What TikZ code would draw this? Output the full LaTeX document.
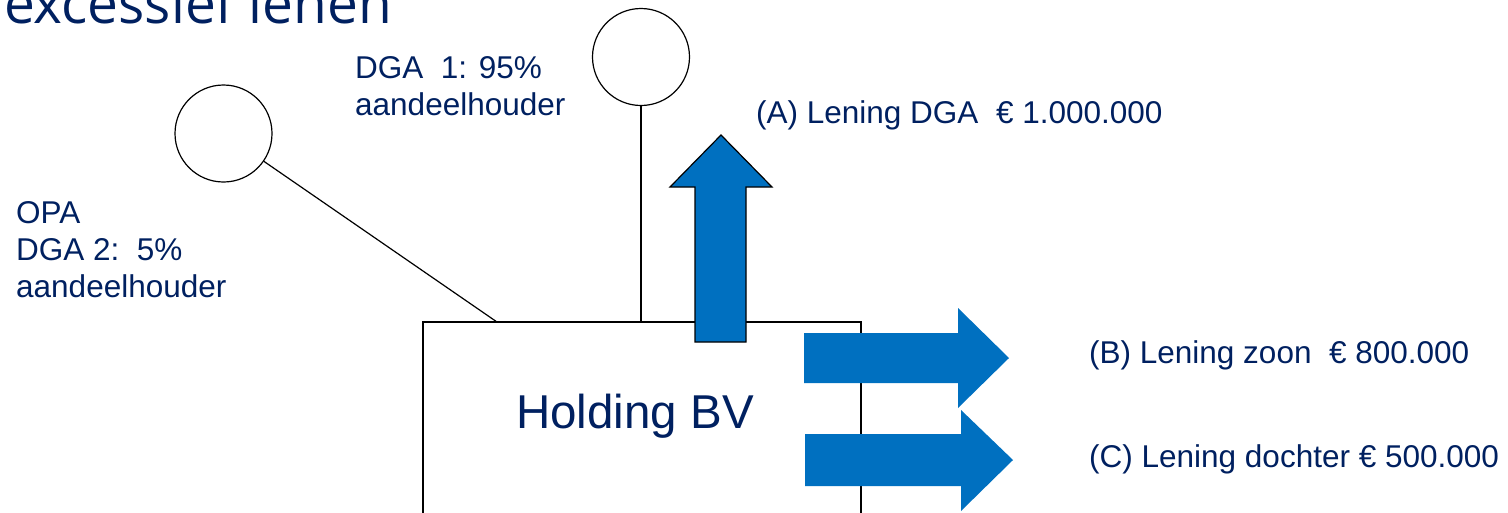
\documentclass[tikz,border=0pt]{standalone}
\usepackage{fontspec}
\setmainfont{Liberation Sans}
\newfontfamily\titlefont{Open Sans}
\definecolor{navy}{HTML}{002060}
\definecolor{arrowblue}{HTML}{0070C0}
\begin{document}
\begin{tikzpicture}[x=1pt,y=-1pt,
  lbl/.style={anchor=base west,inner sep=0pt,text=navy,font=\fontsize{31.5}{37}\selectfont,align=left},
  person/.style={circle,draw=black,line width=1.2pt,minimum size=97pt,inner sep=0pt},
  link/.style={draw=black,line width=1.2pt},
  bigarrow/.style={fill=arrowblue}]
\useasboundingbox (0,0) rectangle (1508,512);
% title (cropped)
\node[anchor=base west,inner sep=0pt,text=navy,font=\titlefont\fontsize{55}{60}\selectfont] (title) at (4,23) {excessief lenen};
% holding box
\draw[link] (423,540) -- (423,322) -- (861,322) -- (861,540);
\coordinate (boxL) at (497,322);
\coordinate (boxM) at (641,322);
\node[anchor=base,inner sep=0pt,text=navy,font=\fontsize{47.5}{50}\selectfont] (holding) at (635,428) {Holding BV};
% persons
\node[person] (p1) at (223.5,133.5) {};
\node[person] (p2) at (641,57) {};
\draw[link] (p1) -- (boxL);
\draw[link] (p2) -- (boxM);
% up arrow A
\draw[bigarrow,draw=black,line width=1.2pt] (695,342) -- (695,187) -- (670,187) -- (721,135) -- (772,187) -- (746,187) -- (746,342) -- cycle;
% right arrows B and C
\fill[arrowblue] (804,333) -- (958,333) -- (958,308) -- (1009,358) -- (958,408) -- (958,383) -- (804,383) -- cycle;
\fill[arrowblue] (805,434) -- (961,434) -- (961,410) -- (1013,460) -- (961,511) -- (961,486) -- (805,486) -- cycle;
% labels (multi-line: base = last line)
\node[lbl] (dga1) at (355,115) {DGA\ \ 1: 95\%\\aandeelhouder};
\node[lbl] (opa) at (16,297) {OPA\\DGA 2:\ \ 5\%\\aandeelhouder};
\node[lbl] (la) at (756,123) {(A) Lening DGA\ \ € 1.000.000};
\node[lbl] (lb) at (1089,363) {(B) Lening zoon\ \ € 800.000};
\node[lbl] (lc) at (1089,467) {(C) Lening dochter € 500.000};
\end{tikzpicture}
\end{document}
